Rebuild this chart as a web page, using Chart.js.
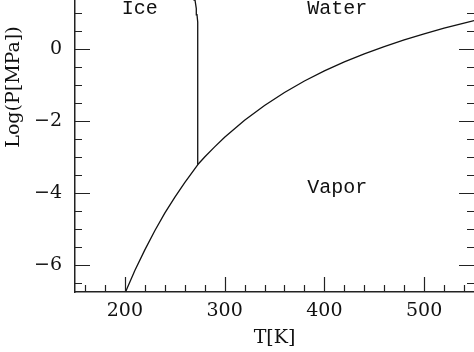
<!DOCTYPE html>
<html>
<head>
  <script src="https://cdn.jsdelivr.net/npm/chart.js"></script>
  <style>
    body { margin: 0; background: #fff; }
    #wrap { width: 474px; height: 352px; }
  </style>
</head>
<body>
<div id="wrap"><canvas id="myChart" width="474" height="352"></canvas></div>
<script>
  // phase boundaries of water, T in K, log10(P / MPa)
  const sublimT = [200, 210, 220, 230, 240, 250, 260, 273.16];
  const sublimP = [-6.79, -6.15, -5.58, -5.05, -4.56, -4.12, -3.71, -3.21];

  const vaporT = [273.16, 280, 290, 300, 320, 340, 360, 380, 400, 420, 440, 460, 480, 500, 520, 540, 555];
  const vaporP = [-3.21, -3.00, -2.72, -2.45, -1.98, -1.57, -1.21, -0.89, -0.61, -0.36, -0.135, 0.068, 0.253, 0.421, 0.576, 0.719, 0.82];

  const meltT = [273.16, 273.16, 272.9, 272.3, 271.6, 270.3, 269.4];
  const meltP = [-3.21, 0.45, 0.75, 0.95, 1.12, 1.36, 1.5];

  const xTicks = [200, 300, 400, 500];
  const yTicks = [-6, -4, -2, 0];

  const phaseLabels = ['Ice', 'Water', 'Vapor'];
  const labelT = [215, 413, 413];
  const labelP = [0.97, 0.97, -4.0];

  function pts(xs, ys) {
    return xs.map(function (x, i) { return { x: x, y: ys[i] }; });
  }

  function line(xs, ys) {
    return {
      data: pts(xs, ys),
      showLine: true,
      borderColor: '#111',
      borderWidth: 1.3,
      pointRadius: 0,
      tension: 0
    };
  }

  // inward ticks on bottom, left and right edges + phase names
  const frame = {
    id: 'frame',
    afterDraw: function (chart) {
      const ctx = chart.ctx;
      const a = chart.chartArea;
      const xs = chart.scales.x;
      const ys = chart.scales.y;
      ctx.save();
      ctx.strokeStyle = '#222';
      ctx.lineWidth = 1.2;
      ctx.beginPath();
      for (let t = 160; t <= 550; t += 20) {
        const px = Math.round(xs.getPixelForValue(t)) + 0.5;
        const len = t % 100 === 0 ? 15 : 7;
        ctx.moveTo(px, a.bottom);
        ctx.lineTo(px, a.bottom - len);
      }
      for (let v = -6.5; v <= 1.5; v += 0.5) {
        const py = Math.round(ys.getPixelForValue(v)) + 0.5;
        const len = v % 2 === 0 ? 15 : 7;
        ctx.moveTo(a.left, py);
        ctx.lineTo(a.left + len, py);
        ctx.moveTo(a.right, py);
        ctx.lineTo(a.right - len, py);
      }
      ctx.stroke();

      ctx.fillStyle = '#111';
      ctx.font = '20px "Liberation Mono"';
      ctx.textAlign = 'center';
      ctx.textBaseline = 'alphabetic';
      phaseLabels.forEach(function (s, i) {
        ctx.fillText(s, xs.getPixelForValue(labelT[i]), ys.getPixelForValue(labelP[i]));
      });

      ctx.translate(14, 87);
      ctx.rotate(-Math.PI / 2);
      ctx.font = '19px "DejaVu Serif"';
      ctx.textBaseline = 'middle';
      ctx.fillText('Log(P[MPa])', 0, 0);
      ctx.restore();
    }
  };

  const tickFont = { family: 'DejaVu Serif', size: 19 };

  const myChart = new Chart(document.getElementById('myChart'), {
    type: 'scatter',
    data: {
      datasets: [line(sublimT, sublimP), line(vaporT, vaporP), line(meltT, meltP)]
    },
    options: {
      responsive: false,
      animation: false,
      layout: { padding: 0 },
      plugins: { legend: { display: false }, tooltip: { enabled: false } },
      scales: {
        x: {
          type: 'linear',
          min: 150,
          max: 550,
          grid: { display: false, drawTicks: false },
          border: { display: true, color: '#222', width: 1.5 },
          afterBuildTicks: function (s) { s.ticks = xTicks.map(function (v) { return { value: v }; }); },
          afterFit: function (s) { s.height = 60; s.paddingLeft = 0; s.paddingRight = 0; },
          ticks: { color: '#111', font: tickFont, padding: 8, maxRotation: 0 },
          title: { display: true, text: 'T[K]', color: '#111', font: tickFont, padding: { bottom: 3 } }
        },
        y: {
          type: 'linear',
          min: -6.75,
          max: 1.36,
          grid: { display: false, drawTicks: false },
          border: { display: true, color: '#222', width: 1.5 },
          afterBuildTicks: function (s) { s.ticks = yTicks.map(function (v) { return { value: v }; }); },
          afterFit: function (s) { s.width = 75; s.paddingTop = 0; s.paddingBottom = 0; },
          ticks: {
            color: '#111', font: tickFont, padding: 13,
            callback: function (v) { return String(v).replace('-', '\u2212'); }
          }
        }
      }
    },
    plugins: [frame]
  });
</script>
</body>
</html>
